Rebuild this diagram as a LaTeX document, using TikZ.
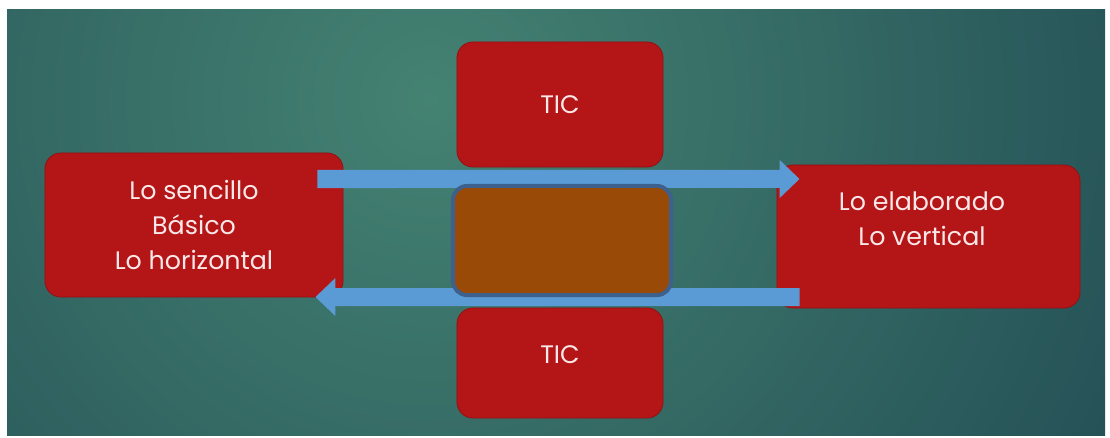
\documentclass[tikz,border=0pt]{standalone}
\usepackage{fontspec}
\setmainfont{Poppins}
\usetikzlibrary{arrows.meta}

\definecolor{bgdark}{RGB}{27,66,78}
\definecolor{bglight}{RGB}{68,130,114}
\definecolor{boxred}{RGB}{180,22,24}
\definecolor{boxedge}{RGB}{150,16,18}
\definecolor{txtpink}{RGB}{250,232,232}
\definecolor{midbrown}{RGB}{153,74,7}
\definecolor{midedge}{RGB}{62,96,140}
\definecolor{flowblue}{RGB}{91,155,213}

\begin{document}
\begin{tikzpicture}[
    x=0.025cm, y=-0.025cm,
    every node/.style={font=\fontsize{18}{25}\selectfont, text=txtpink},
    redbox/.style={rectangle, fill=boxred, draw=boxedge, line width=0.6pt, rounded corners=0.4cm, align=center, inner sep=0pt},
    midbox/.style={rectangle, fill=midbrown, draw=midedge, line width=0.1cm, rounded corners=0.35cm, inner sep=0pt},
    flow/.style={draw=flowblue, line width=0.45cm, -{Triangle[length=0.5cm, width=0.925cm]}}
]

% Background
\useasboundingbox (0,0) rectangle (1110,437);
\fill[white] (0,0) rectangle (1110,437);
\fill[bgdark] (7,9) rectangle (1105,435);
\begin{scope}
  \clip (7,9) rectangle (1105,435);
  \shade[inner color=bglight, outer color=bgdark] (430,100) circle (1000);
\end{scope}

% Nodes
\node[redbox, minimum width=7.45cm, minimum height=3.6cm] (sencillo) at (194,225) {Lo sencillo\\Básico\\Lo horizontal};
\node[redbox, minimum width=7.575cm, minimum height=3.575cm] (elab) at (928.5,236.5) {};
\node[align=center] (elabtxt) at (922,219) {Lo elaborado\\Lo vertical};
\node[redbox, minimum width=5.15cm, minimum height=3.125cm] (tictop) at (560,104.5) {TIC};
\node[redbox, minimum width=5.15cm, minimum height=2.75cm, text depth=0.4cm] (ticbot) at (560,363) {TIC};

% Edges
\draw[flow] ([xshift=-0.65cm,yshift=1.15cm]sencillo.east) -- ([xshift=0.575cm,yshift=1.4375cm]elab.west);
\draw[flow] ([xshift=0.575cm,yshift=-1.5125cm]elab.west) -- ([xshift=-0.7cm,yshift=-1.8cm]sencillo.east);

\node[midbox, minimum width=5.45cm, minimum height=2.725cm] (centro) at (562,240.5) {};

\end{tikzpicture}
\end{document}
